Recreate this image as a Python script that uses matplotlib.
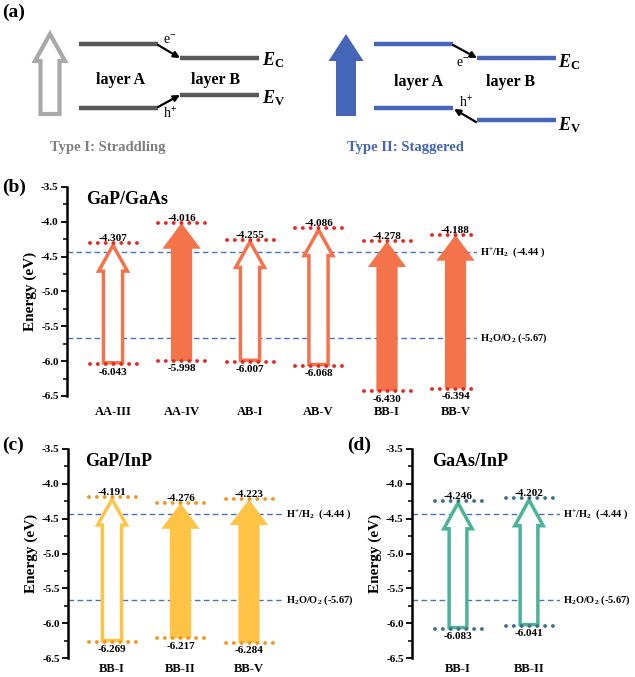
"""Band alignment of III-V heterobilayers: schematic (a) and band edges (b-d)."""
import matplotlib
matplotlib.use("Agg")
import matplotlib.pyplot as plt
from matplotlib.patches import Polygon

plt.rcParams["font.family"] = ["Liberation Serif", "DejaVu Serif"]
plt.rcParams["axes.unicode_minus"] = False
plt.rcParams["mathtext.fontset"] = "custom"
plt.rcParams["mathtext.rm"] = "Liberation Serif:bold"
plt.rcParams["mathtext.bf"] = "Liberation Serif:bold"
plt.rcParams["mathtext.it"] = "Liberation Serif:italic:bold"

# ---- data ---------------------------------------------------------------
b_labels = ["AA-III", "AA-IV", "AB-I", "AB-V", "BB-I", "BB-V"]
b_cbm = [-4.307, -4.016, -4.255, -4.086, -4.278, -4.188]
b_vbm = [-6.043, -5.998, -6.007, -6.068, -6.430, -6.394]
b_type = ["I", "II", "I", "I", "II", "II"]

c_labels = ["BB-I", "BB-II", "BB-V"]
c_cbm = [-4.191, -4.276, -4.223]
c_vbm = [-6.269, -6.217, -6.284]
c_type = ["I", "II", "II"]

d_labels = ["BB-I", "BB-II"]
d_cbm = [-4.246, -4.202]
d_vbm = [-6.083, -6.041]
d_type = ["I", "I"]

redox_vals = [-4.44, -5.67]
redox_text = ["H$^{+}$/H$_{2}$  (-4.44 )", "H$_{2}$O/O$_{2}$ (-5.67)"]

W, H = 635, 677
fig = plt.figure(figsize=(W / 100, H / 100), dpi=100)
bg = fig.add_axes([0, 0, 1, 1])
bg.set_xlim(0, W); bg.set_ylim(H, 0); bg.axis("off")

DASH = "#4472C4"


def px_rect(l, t, r, b):
    return [l / W, 1 - b / H, (r - l) / W, (b - t) / H]


def arrow_verts(x, y0, y1, bw, hw, hl):
    s = 1 if y1 > y0 else -1
    yb = y1 - s * hl
    return [(x - bw / 2, y0), (x + bw / 2, y0), (x + bw / 2, yb), (x + hw / 2, yb),
            (x, y1), (x - hw / 2, yb), (x - bw / 2, yb)]


# ---- (a) schematic --------------------------------------------------------
bg.text(2, 12, "(a)", fontsize=14, fontweight="bold", va="center")

GRAYL = "#595959"
BLUE = "#4566B8"
bg.add_patch(Polygon(arrow_verts(50, 114, 34, 19, 30, 27), closed=True,
                     facecolor="white", edgecolor="#A9A9A9", lw=3, joinstyle="miter"))
for (x1, x2, y) in [(79, 158, 44), (180, 259, 58), (79, 158, 108), (180, 259, 95)]:
    bg.plot([x1, x2], [y, y], color=GRAYL, lw=3.2, solid_capstyle="butt")
bg.annotate("", xy=(180, 58), xytext=(158, 45),
            arrowprops=dict(arrowstyle="-|>", color="black", lw=1.6, mutation_scale=9,
                            shrinkA=0, shrinkB=0))
bg.annotate("", xy=(180, 95), xytext=(158, 107),
            arrowprops=dict(arrowstyle="-|>", color="black", lw=1.6, mutation_scale=9,
                            shrinkA=0, shrinkB=0))
bg.text(170, 40, "e$^{-}$", fontsize=10, ha="center", va="center")
bg.text(170, 114, "h$^{+}$", fontsize=10, ha="center", va="center")
bg.text(121, 80, "layer A", fontsize=11.5, fontweight="bold", ha="center", va="center")
bg.text(216, 80, "layer B", fontsize=11.5, fontweight="bold", ha="center", va="center")
bg.text(262, 60, r"$E_\mathrm{C}$", fontsize=13, va="center")
bg.text(262, 98, r"$E_\mathrm{V}$", fontsize=13, va="center")
bg.text(108, 148, "Type I: Straddling", fontsize=10.5, fontweight="bold",
        color="#7F7F7F", ha="center", va="center")

bg.add_patch(Polygon(arrow_verts(346, 116, 34, 20, 35, 27), closed=True,
                     facecolor=BLUE, edgecolor="none"))
for (x1, x2, y) in [(374, 453, 44), (477, 556, 58), (374, 453, 108), (477, 556, 120)]:
    bg.plot([x1, x2], [y, y], color=BLUE, lw=3.2, solid_capstyle="butt")
bg.annotate("", xy=(477, 58), xytext=(453, 45),
            arrowprops=dict(arrowstyle="-|>", color="black", lw=1.6, mutation_scale=9,
                            shrinkA=0, shrinkB=0))
bg.annotate("", xy=(454, 109), xytext=(476, 122),
            arrowprops=dict(arrowstyle="-|>", color="black", lw=1.6, mutation_scale=9,
                            shrinkA=0, shrinkB=0))
bg.text(463, 63, "e$^{-}$", fontsize=10, ha="center", va="center")
bg.text(466, 103, "h$^{+}$", fontsize=10, ha="center", va="center")
bg.text(418, 82, "layer A", fontsize=11.5, fontweight="bold", ha="center", va="center")
bg.text(511, 82, "layer B", fontsize=11.5, fontweight="bold", ha="center", va="center")
bg.text(558, 62, r"$E_\mathrm{C}$", fontsize=13, va="center")
bg.text(558, 125, r"$E_\mathrm{V}$", fontsize=13, va="center")
bg.text(405, 148, "Type II: Staggered", fontsize=10.5, fontweight="bold",
        color=BLUE, ha="center", va="center")


# ---- (b)-(d) band edge panels ----------------------------------------------
def panel(rect, x0, ppu, labels, cbm, vbm, kinds, color, dotc, pad,
          fw=(0.31, 0.56), hwid=(0.28, 0.42)):
    l, t, r, b = rect
    ax = fig.add_axes(px_rect(l, t, r, b))
    ax.set_facecolor("none")
    ax.set_xlim((l - x0) / ppu, (r - x0) / ppu)
    ax.set_ylim(-6.5, -3.5)
    for sp in ["top", "right", "bottom"]:
        ax.spines[sp].set_visible(False)
    ax.spines["left"].set_linewidth(1.8)
    ax.set_yticks([-6.5, -6.0, -5.5, -5.0, -4.5, -4.0, -3.5])
    ax.set_yticks([-6.25, -5.75, -5.25, -4.75, -4.25, -3.75], minor=True)
    ax.yaxis.set_major_formatter(lambda v, p: f"{v:.1f}")
    ax.tick_params(axis="y", which="major", length=4, width=1.3, labelsize=8, pad=2)
    ax.tick_params(axis="y", which="minor", length=3, width=1.1)
    for lab in ax.get_yticklabels():
        lab.set_fontweight("bold")
    ax.set_xticks(range(len(labels)))
    ax.set_xticklabels(labels, fontsize=9, fontweight="bold")
    ax.tick_params(axis="x", length=0, pad=pad)
    ax.set_ylabel("Energy (eV)", fontsize=11, fontweight="bold", labelpad=3)

    for v, txt in zip(redox_vals, redox_text):
        ax.axhline(v, color=DASH, lw=1.0, ls=(0, (4, 2.5)), zorder=1)
        ax.annotate(txt, xy=(1, v), xycoords=("axes fraction", "data"),
                    xytext=(2.5, 0), textcoords="offset points", fontsize=7.5,
                    fontweight="bold", va="center", annotation_clip=False)

    hl = 0.37
    dhalf = 23.5 / ppu
    for i, (top, bot, k) in enumerate(zip(cbm, vbm, kinds)):
        if k == "II":
            ax.add_patch(Polygon(arrow_verts(i, bot, top, fw[0], fw[1], hl), closed=True,
                                 facecolor=color, edgecolor="none", zorder=2))
        else:
            ax.add_patch(Polygon(arrow_verts(i, bot + 0.02, top - 0.03, hwid[0], hwid[1], hl),
                                 closed=True, facecolor="white", edgecolor=color,
                                 lw=2.5, joinstyle="miter", zorder=2))
        for v in (top, bot):
            ax.plot([i - dhalf, i + dhalf], [v, v], color=dotc, lw=2.8,
                    ls=(0, (0.01, 2.0)), dash_capstyle="round", zorder=3)
        ax.annotate(f"{top:.3f}", (i, top), xytext=(0, 0), textcoords="offset points",
                    ha="center", va="bottom", fontsize=8, fontweight="bold", zorder=4)
        ax.annotate(f"{bot:.3f}", (i, bot), xytext=(0, -2.5), textcoords="offset points",
                    ha="center", va="top", fontsize=8, fontweight="bold", zorder=4)
    return ax


panel((67, 187, 477, 396), 113, 68.5, b_labels, b_cbm, b_vbm, b_type,
      "#F4734B", "#E8261E", 7)
panel((68, 449, 283, 658), 112, 68.5, c_labels, c_cbm, c_vbm, c_type,
      "#FFC445", "#F7941D", 3.5)
panel((412, 449, 560, 658), 458, 71, d_labels, d_cbm, d_vbm, d_type,
      "#4DB398", "#3D6E8C", 3.5, hwid=(0.25, 0.40))

bg.text(2, 187, "(b)", fontsize=14, fontweight="bold", va="center")
bg.text(2, 445, "(c)", fontsize=14, fontweight="bold", va="center")
bg.text(347, 445, "(d)", fontsize=14, fontweight="bold", va="center")
bg.text(86, 200, "GaP/GaAs", fontsize=13, fontweight="bold", va="center")
bg.text(85, 461, "GaP/InP", fontsize=13, fontweight="bold", va="center")
bg.text(432, 461, "GaAs/InP", fontsize=13, fontweight="bold", va="center")

fig.savefig("out.png", dpi=100)
